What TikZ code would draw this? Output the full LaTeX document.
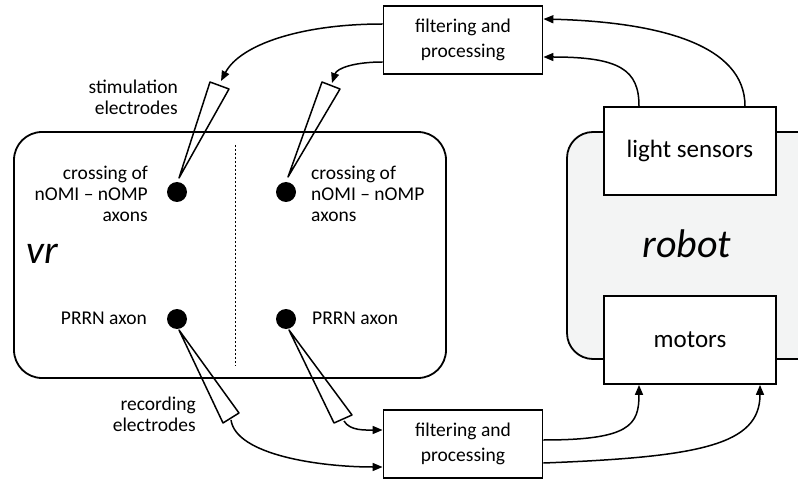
\documentclass[tikz,border=0pt]{standalone}
\usepackage{fontspec}
\setmainfont{Carlito}
\usetikzlibrary{arrows.meta}
\begin{document}
\begin{tikzpicture}[x=1pt,y=-1pt,
  lbl/.style={inner sep=0pt,font=\fontsize{19.5}{21}\selectfont},
  procbox/.style={draw,line width=1.8pt,fill=white,minimum width=159pt,minimum height=68pt,align=center,inner sep=0pt,font=\fontsize{19.5}{25}\selectfont},
  robbox/.style={draw,line width=1.8pt,fill=white,minimum width=172pt,minimum height=88pt,inner sep=0pt,font=\fontsize{25}{30}\selectfont},
  dot/.style={circle,fill=black,minimum size=20pt,inner sep=0pt},
  conn/.style={line width=1.5pt,-{Triangle[length=10pt,width=8pt]}},
  electrode/.style={line width=1.5pt,line join=round}]
\path[use as bounding box] (0,0) rectangle (798,481);
\clip (0,0) rectangle (798,481);
% containers
\draw[line width=1.8pt,rounded corners=28pt] (14,132) rectangle (446,378);
\draw[line width=1.8pt,rounded corners=26pt,fill={rgb,255:red,243;green,244;blue,244}] (567,132) rectangle (830,359);
\draw[dashed,line width=0.6pt,dash pattern=on 2pt off 2pt] (235,145) -- (235,366);
\node[lbl,anchor=base west,font=\fontsize{40}{40}\selectfont\itshape] (vr) at (26,263) {vr};
\node[lbl,anchor=base,font=\fontsize{40}{40}\selectfont\itshape] (robot) at (687,258) {robot};
% boxes
\node[procbox] (ftop) at (463,40) {filtering and\\processing};
\node[procbox] (fbot) at (463,444) {filtering and\\processing};
\node[robbox] (sens) at (690,151) {light sensors};
\node[robbox] (mot) at (690,340) {motors};
% dots
\node[dot] (d1) at (177,192) {};
\node[dot] (d2) at (286,192) {};
\node[dot] (d3) at (177,319) {};
\node[dot] (d4) at (286,319) {};
% labels
\node[lbl,align=right,anchor=east] (stimlbl) at (178,97) {stimulation\\electrodes};
\node[lbl,align=right,anchor=east] (cross1) at (148,194) {crossing of\\nOMI -- nOMP\\axons};
\node[lbl,align=left,anchor=west] (cross2) at (311,194) {crossing of\\nOMI -- nOMP\\axons};
\node[lbl,anchor=base east] (prrn1) at (147,324) {PRRN axon};
\node[lbl,anchor=base west] (prrn2) at (312,324) {PRRN axon};
\node[lbl,align=right,anchor=east] (reclbl) at (196,414) {recording\\electrodes};
% electrodes
\coordinate (s1a) at (210,82); \coordinate (s1b) at (229,89); \coordinate (s1t) at (179,178);
\coordinate (s2a) at (322,82); \coordinate (s2b) at (340,89); \coordinate (s2t) at (288,177);
\coordinate (r1a) at (223,423); \coordinate (r1b) at (239,413); \coordinate (r1t) at (179,330);
\coordinate (r2a) at (334,423); \coordinate (r2b) at (352,415); \coordinate (r2t) at (289,330);
\draw[electrode] (s1t) -- (s1a) -- (s1b) -- cycle;
\draw[electrode] (s2t) -- (s2a) -- (s2b) -- cycle;
\draw[electrode] (r1t) -- (r1a) -- (r1b) -- cycle;
\draw[electrode] (r2t) -- (r2a) -- (r2b) -- cycle;
\coordinate (s1in) at (221,81);
\coordinate (s2in) at (332,83);
\coordinate (r1out) at (231,420);
\coordinate (r2out) at (344,421);
% connectors
\draw[conn] (ftop.west |- 0,24) .. controls (300,24) and (240,45) .. (s1in);
\draw[conn] (ftop.west |- 0,62) .. controls (355,62) and (337,68) .. (s2in);
\draw[conn] (sens.north -| 745,0) .. controls (745,45) and (660,22) .. (ftop.east |- 0,19);
\draw[conn] (sens.north -| 639,0) .. controls (639,70) and (620,57) .. (ftop.east |- 0,57);
\draw[conn] (fbot.east |- 0,440) .. controls (630,440) and (639,425) .. (mot.south -| 639,0);
\draw[conn] (fbot.east |- 0,463) .. controls (700,457) and (760,445) .. (mot.south -| 760,0);
\draw[conn] (r1out) .. controls (236,455) and (320,467) .. (fbot.west |- 0,467);
\draw[conn] (r2out) .. controls (350,431) and (365,430) .. (fbot.west |- 0,430);
\end{tikzpicture}
\end{document}
